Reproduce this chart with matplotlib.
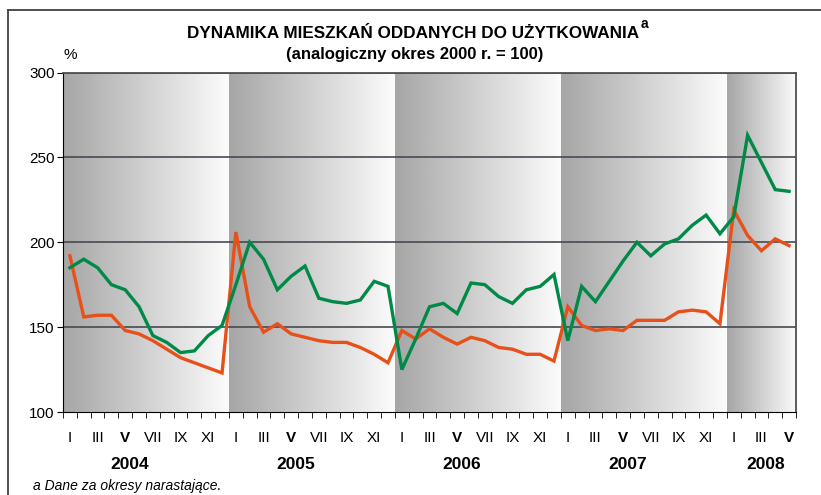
import numpy as np
import matplotlib
matplotlib.use("Agg")
import matplotlib.pyplot as plt
from matplotlib.lines import Line2D

plt.rcParams['font.family'] = ['Liberation Sans', 'DejaVu Sans']

years = ['2004', '2005', '2006', '2007', '2008']
months_in_year = [12, 12, 12, 12, 5]
month_labels = ['I', '', 'III', '', 'V', '', 'VII', '', 'IX', '', 'XI', '']

# green series
green = [185, 190, 185, 175, 172, 162, 145, 141, 135, 136, 145, 151,
         175, 200, 190, 172, 180, 186, 167, 165, 164, 166, 177, 174,
         125, 143, 162, 164, 158, 176, 175, 168, 164, 172, 174, 181,
         142, 174, 165, 177, 189, 200, 192, 199, 202, 210, 216, 205,
         215, 263, 247, 231, 230]
# orange series
red = [192, 156, 157, 157, 148, 146, 142, 137, 132, 129, 126, 123,
       206, 162, 147, 152, 146, 144, 142, 141, 141, 138, 134, 129,
       148, 143, 149, 144, 140, 144, 142, 138, 137, 134, 134, 130,
       162, 151, 148, 149, 148, 154, 154, 154, 159, 160, 159, 152,
       219, 204, 195, 202, 198]

yticks = [100, 150, 200, 250, 300]

fig = plt.figure(figsize=(8.21, 4.95), dpi=100)
ax = fig.add_axes([63/821, 1-412/495, (796-63)/821, (412-72.5)/495])

n = len(green)
x = np.arange(n)

# gradient bands for each year
grad = np.linspace(0.65, 0.985, 256).reshape(1, -1)
start = -0.5
for m in months_in_year:
    ax.imshow(grad, cmap='gray', vmin=0, vmax=1, aspect='auto',
              extent=[start, start + m, 100, 300], zorder=0, interpolation='bicubic')
    start += m

for yv in [150, 200, 250, 300]:
    ax.axhline(yv, color='#454b52', lw=1.2, zorder=1)

ax.plot(x, red, color='#e8501a', lw=2.4, zorder=3, solid_joinstyle='miter')
ax.plot(x, green, color='#008a47', lw=2.4, zorder=4, solid_joinstyle='miter')

ax.set_xlim(-0.5, n - 0.5)
ax.set_ylim(100, 300)
ax.set_yticks(yticks)
ax.tick_params(axis='y', direction='out', length=4, labelsize=11, pad=2)

# month labels
pos, labs = [], []
start = 0
for m in months_in_year:
    for k in range(0, m, 2):
        pos.append(start + k)
        labs.append(month_labels[k])
    start += m
ax.set_xticks(pos)
ax.set_xticklabels(labs, fontsize=11)
for t in ax.get_xticklabels():
    if t.get_text() == 'V':
        t.set_fontweight('bold')
ax.tick_params(axis='x', which='major', length=0, pad=14)
ax.set_xticks(np.arange(-0.5, n, 1), minor=True)
ax.tick_params(axis='x', which='minor', direction='out', length=4)

# year labels
start = 0
for yr, m in zip(years, months_in_year):
    off = 4.3 if m == 12 else 2.3
    ax.text(start + off, -0.155, yr, transform=ax.get_xaxis_transform(),
            ha='center', va='center', fontsize=12.5, fontweight='bold')
    start += m

for s in ['left', 'bottom']:
    ax.spines[s].set_color('black')
for s in ['top', 'right']:
    ax.spines[s].set_color('#505050')
    ax.spines[s].set_linewidth(1.3)

ax.text(-0.5, 306, '%', ha='left', va='bottom', fontsize=11)

fig.text(413/821, 1-34/495, 'DYNAMIKA MIESZKAŃ ODDANYCH DO UŻYTKOWANIA',
         ha='center', va='center', fontsize=12.3, fontweight='bold')
fig.text(641/821, 1-24/495, 'a', ha='left', va='center', fontsize=10, fontweight='bold')
fig.text(415/821, 1-55/495, '(analogiczny okres 2000 r. = 100)',
         ha='center', va='center', fontsize=12, fontweight='bold')
fig.text(33/821, 1-486/495, 'a Dane za okresy narastające.',
         ha='left', va='center', fontsize=10, style='italic')

# outer frame
fig.add_artist(Line2D([8/821, 1.0], [1-10/495, 1-10/495], transform=fig.transFigure,
                      color='#404040', lw=1.3))
fig.add_artist(Line2D([8/821, 8/821], [0.0, 1-10/495], transform=fig.transFigure,
                      color='#404040', lw=1.3))

fig.savefig('out.png', dpi=100)
